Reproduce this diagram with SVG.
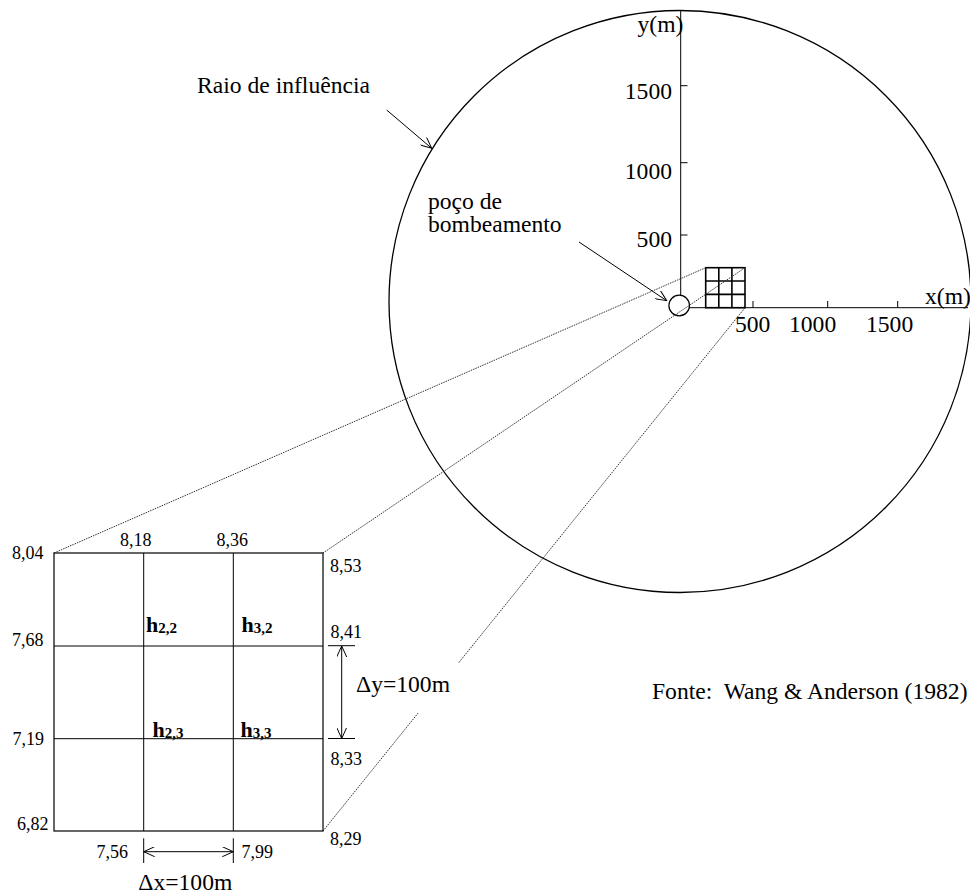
<svg xmlns="http://www.w3.org/2000/svg" width="970" height="895" viewBox="0 0 970 895">
<style>
text{font-family:"Liberation Serif","Times New Roman",serif;fill:#000}
.big{font-size:23.6px}
.num{font-size:18px}
.h{font-size:22px;font-weight:bold}
.sub{font-size:15px;font-weight:bold}
.ln{stroke:#000;stroke-width:1;fill:none}
.dot{stroke:#333;stroke-width:1;stroke-dasharray:1.5 1;fill:none}
.sg{stroke:#000;stroke-width:1.6;fill:none}
</style>
<defs>
<marker id="oa" viewBox="0 0 12 10" refX="11" refY="5" markerWidth="12" markerHeight="10" markerUnits="userSpaceOnUse" orient="auto-start-reverse">
<path d="M0,0 L11,5 L0,10" fill="none" stroke="#000" stroke-width="1"/>
</marker>
</defs>
<rect width="970" height="895" fill="#fff"/>

<g id="influence-circle">
<circle cx="680" cy="301.5" r="291" fill="none" stroke="#000" stroke-width="1.3"/>
</g>

<g id="axes">
<line class="ln" x1="680.7" y1="10" x2="680.7" y2="295"/>
<line class="ln" x1="689" y1="307.7" x2="968" y2="307.7"/>
<line class="ln" x1="680.7" y1="85.7" x2="687.5" y2="85.7"/>
<line class="ln" x1="680.7" y1="162.7" x2="687.5" y2="162.7"/>
<line class="ln" x1="680.7" y1="235" x2="687.5" y2="235"/>
<line class="ln" x1="753" y1="301" x2="753" y2="307.7"/>
<line class="ln" x1="827.7" y1="301" x2="827.7" y2="307.7"/>
<line class="ln" x1="897.7" y1="301" x2="897.7" y2="307.7"/>
<text class="big" x="637.5" y="32">y(m)</text>
<text class="big" x="672" y="99" text-anchor="end">1500</text>
<text class="big" x="672" y="179" text-anchor="end">1000</text>
<text class="big" x="672" y="247" text-anchor="end">500</text>
<text class="big" x="925" y="304">x(m)</text>
<text class="big" x="735" y="332">500</text>
<text class="big" x="789" y="332">1000</text>
<text class="big" x="866" y="332">1500</text>
</g>

<g id="well">
<circle cx="679.2" cy="305.5" r="10.3" fill="#fff" stroke="#000" stroke-width="1.2"/>
</g>

<g id="small-grid">
<rect class="sg" x="705.7" y="267.7" width="39.3" height="40"/>
<line class="sg" x1="718.8" y1="267.7" x2="718.8" y2="307.7"/>
<line class="sg" x1="731.9" y1="267.7" x2="731.9" y2="307.7"/>
<line class="sg" x1="705.7" y1="281" x2="745" y2="281"/>
<line class="sg" x1="705.7" y1="294.4" x2="745" y2="294.4"/>
</g>

<g id="connectors">
<line class="dot" x1="54" y1="553" x2="705.7" y2="267.7"/>
<line class="dot" x1="323" y1="553" x2="745" y2="267.7"/>
<line class="dot" x1="323" y1="831" x2="745" y2="307.7"/>
<line class="ln" x1="386.7" y1="110" x2="431.7" y2="148.3" marker-end="url(#oa)"/>
<line class="ln" x1="579" y1="242" x2="666.7" y2="300.7" marker-end="url(#oa)"/>
</g>

<g id="labels">
<text class="big" x="197" y="93">Raio de influência</text>
<text class="big" x="428" y="209">poço de</text>
<text class="big" x="428" y="232">bombeamento</text>
<text class="big" x="652" y="699">Fonte:&#160; Wang &amp; Anderson (1982)</text>
</g>

<g id="detail-grid">
<rect x="54" y="553" width="269" height="278" fill="none" stroke="#000" stroke-width="1.2"/>
<line class="ln" x1="143.7" y1="553" x2="143.7" y2="831"/>
<line class="ln" x1="233.3" y1="553" x2="233.3" y2="831"/>
<line class="ln" x1="54" y1="646" x2="323" y2="646"/>
<line class="ln" x1="54" y1="738.7" x2="323" y2="738.7"/>
<text class="num" x="12" y="559">8,04</text>
<text class="num" x="120" y="546">8,18</text>
<text class="num" x="216.5" y="546">8,36</text>
<text class="num" x="330" y="572">8,53</text>
<text class="num" x="12" y="646">7,68</text>
<text class="num" x="330.5" y="638">8,41</text>
<text class="num" x="12.5" y="745">7,19</text>
<text class="num" x="330.5" y="765">8,33</text>
<text class="num" x="17" y="830">6,82</text>
<text class="num" x="330" y="845">8,29</text>
<text class="num" x="96.5" y="858">7,56</text>
<text class="num" x="241.5" y="858">7,99</text>
<text x="146" y="632"><tspan class="h">h</tspan><tspan class="sub" dy="1">2,2</tspan></text>
<text x="241.5" y="632"><tspan class="h">h</tspan><tspan class="sub" dy="1">3,2</tspan></text>
<text x="152.5" y="736.5"><tspan class="h">h</tspan><tspan class="sub" dy="1">2,3</tspan></text>
<text x="240.5" y="736.5"><tspan class="h">h</tspan><tspan class="sub" dy="1">3,3</tspan></text>
</g>

<g id="dimension-y">
<rect x="350" y="663" width="112" height="50" fill="#fff"/>
<line class="ln" x1="328" y1="645.7" x2="355" y2="645.7"/>
<line class="ln" x1="328" y1="738.5" x2="355" y2="738.5"/>
<line class="ln" x1="341.7" y1="646" x2="341.7" y2="738.5" marker-start="url(#oa)" marker-end="url(#oa)"/>
<text class="big" x="356" y="691.7">Δy=100m</text>
</g>

<g id="dimension-x">
<line class="ln" x1="143.7" y1="838.3" x2="143.7" y2="863"/>
<line class="ln" x1="233.3" y1="838.3" x2="233.3" y2="863"/>
<line class="ln" x1="143.7" y1="851.7" x2="233.3" y2="851.7" marker-start="url(#oa)" marker-end="url(#oa)"/>
<text class="big" x="138.3" y="890">Δx=100m</text>
</g>
</svg>
